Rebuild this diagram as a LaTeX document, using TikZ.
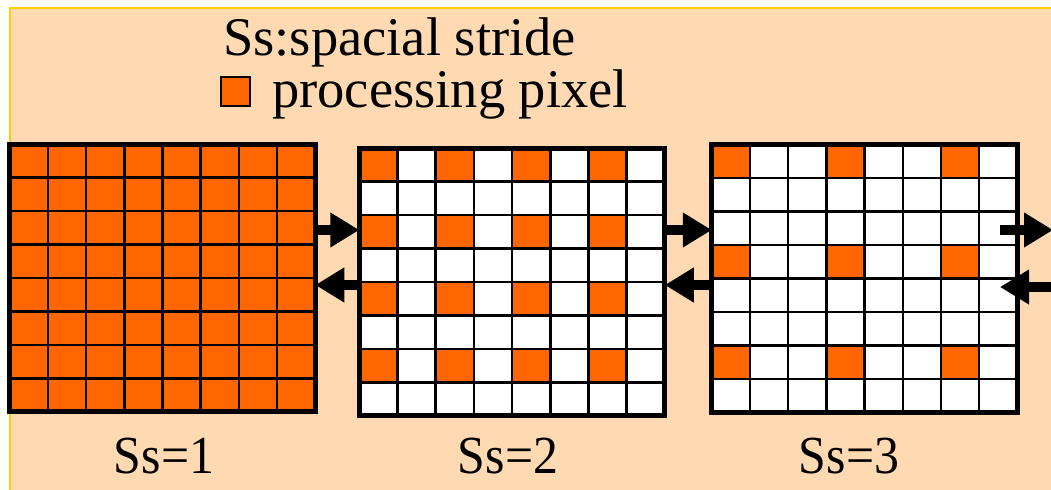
\documentclass[tikz,border=0pt]{standalone}
\usepackage{fontspec}
\setmainfont{LiberationSerif}[Extension=.ttf, UprightFont=*-Regular, BoldFont=*-Bold, ItalicFont=*-Italic, BoldItalicFont=*-BoldItalic]
\usetikzlibrary{positioning,arrows.meta}

\definecolor{peach}{RGB}{255,217,178}
\definecolor{pixorange}{RGB}{255,102,0}
\definecolor{edgeyellow}{RGB}{255,204,0}

\begin{document}
\begin{tikzpicture}[x=0.02cm, y=-0.02cm,
    panel/.style={fill=white, minimum width=6.112cm, minimum height=5.36cm, inner sep=0pt, outer sep=0pt},
    cellrule/.style={line width=0.05cm},
    panelframe/.style={line width=0.1cm},
    bigarrow/.style={line width=0.21cm, -{Triangle[length=0.58cm,width=0.66cm]}},
    keybox/.style={draw, line width=0.03cm, fill=pixorange, minimum size=0.58cm, inner sep=0pt},
    headtext/.style={font=\fontsize{31}{36}\selectfont, inner sep=0pt, anchor=base west},
    sstext/.style={font=\fontsize{30.5}{36}\selectfont, inner sep=0pt, anchor=base}]

\useasboundingbox (0,0) rectangle (1051,490);
% backdrop
\fill[white] (0,0) rectangle (1051,490);
\filldraw[fill=peach, draw=edgeyellow, line width=0.04cm] (10,8) rectangle (1070,510);

% legend
\node[headtext] (title) at (223,55) {Ss:spacial stride};
\node[keybox] (key) at (235.5,91.5) {};
\node[headtext] (keytext) at (272,107) {processing pixel};

% the three 8x8 frames
\node[panel] (g1) at (162.5,278) {};
\node[panel, right=0.88cm of g1, yshift=-0.08cm] (g2) {};
\node[panel, right=0.94cm of g2, yshift=0.07cm] (g3) {};

% pixels being processed
\fill[pixorange] (g1.north west) rectangle (g1.south east);
\foreach \i in {0,2,4,6}
  \foreach \j in {0,2,4,6}
    \fill[pixorange] ([shift={(\i*38.2,\j*33.5)}]g2.north west) rectangle +(38.2,33.5);
\foreach \i in {0,3,6}
  \foreach \j in {0,3,6}
    \fill[pixorange] ([shift={(\i*38.2,\j*33.5)}]g3.north west) rectangle +(38.2,33.5);

% cell rules and outer frame
\foreach \g in {g1,g2,g3} {
  \foreach \k in {1,...,7} {
    \draw[cellrule] ([shift={(\k*38.2,0)}]\g.north west) -- ([shift={(\k*38.2,0)}]\g.south west);
    \draw[cellrule] ([shift={(0,\k*33.5)}]\g.north west) -- ([shift={(0,\k*33.5)}]\g.north east);
  }
  \draw[panelframe] (\g.north west) rectangle (\g.south east);
}

% forward / backward arrows
\coordinate (fwd) at (0,230);
\coordinate (back) at (0,285);
\draw[bigarrow] (g1.east |- fwd) -- (g2.west |- fwd);
\draw[bigarrow] (g2.west |- back) -- (g1.east |- back);
\draw[bigarrow] (g2.east |- fwd) -- (g3.west |- fwd);
\draw[bigarrow] (g3.west |- back) -- (g2.east |- back);
\coordinate (outfrom) at (1000,230);
\coordinate (outto) at (1053,230);
\coordinate (infrom) at (1070,287);
\coordinate (into) at (1000,287);
\draw[bigarrow] (outfrom) -- (outto);
\draw[bigarrow] (infrom) -- (into);

% stride labels
\node[sstext] (s1) at (164,473) {\scalebox{0.93}[1]{Ss=1}};
\node[sstext] (s2) at (508,473) {\scalebox{0.93}[1]{Ss=2}};
\node[sstext] (s3) at (849,473) {\scalebox{0.93}[1]{Ss=3}};
\end{tikzpicture}
\end{document}
